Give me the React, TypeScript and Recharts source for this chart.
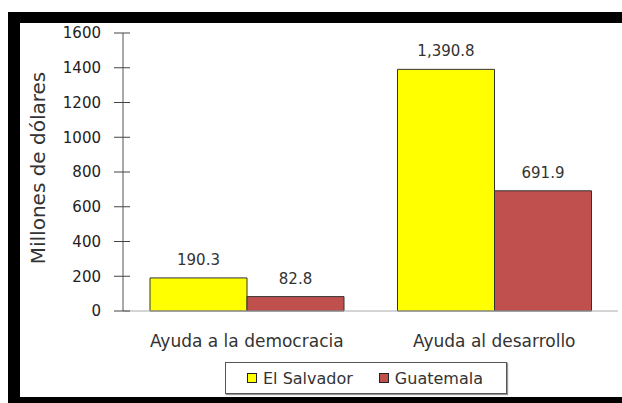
import {
  BarChart,
  Bar,
  XAxis,
  YAxis,
  Legend,
  LabelList,
} from "recharts";

const categories = ["Ayuda a la democracia", "Ayuda al desarrollo"];
const elSalvador = [190.3, 1390.8];
const guatemala = [82.8, 691.9];
const yTicks = [0, 200, 400, 600, 800, 1000, 1200, 1400, 1600];

const data = categories.map((c, i) => ({
  category: c,
  elSalvador: elSalvador[i],
  guatemala: guatemala[i],
}));

const FONT = "'DejaVu Sans', Verdana, sans-serif";
const COLORS = {
  elSalvador: "#ffff00",
  guatemala: "#c0504d",
};

const fmt = (v: any) =>
  Number(v).toLocaleString("en-US", { minimumFractionDigits: 1, maximumFractionDigits: 1 });

// y tick: label plus a tick mark that crosses the axis line
function YTick({ x, y, payload }: any) {
  return (
    <g>
      <line x1={x + 13} x2={x + 29} y1={y} y2={y} stroke="#444" />
      <text
        x={x}
        y={y}
        dy="0.355em"
        textAnchor="end"
        fontSize={15}
        fill="#222"
        fontFamily={FONT}
      >
        {payload.value}
      </text>
    </g>
  );
}

function LegendBox({ payload }: any) {
  return (
    <div
      style={{
        boxSizing: "border-box",
        width: 282,
        height: 32,
        border: "1px solid #555",
        boxShadow: "1px 1px 1px #999",
        display: "flex",
        alignItems: "center",
        paddingLeft: 21,
        fontFamily: FONT,
        fontSize: 16,
        color: "#333",
        background: "#fff",
      }}
    >
      {(payload || []).map((p: any, i: number) => (
        <div
          key={p.value}
          style={{ display: "flex", alignItems: "center", marginLeft: i === 0 ? 0 : 26 }}
        >
          <span
            style={{
              display: "inline-block",
              boxSizing: "border-box",
              width: 10,
              height: 10,
              background: p.color,
              border: "1px solid #222",
              marginRight: 6,
            }}
          />
          <span>{p.value}</span>
        </div>
      ))}
    </div>
  );
}

export default function App() {
  return (
    <div
      style={{
        position: "absolute",
        left: 0,
        top: 0,
        width: 622,
        height: 403,
        background: "#fff",
        overflow: "hidden",
      }}
    >
      <div style={{ position: "absolute", left: 8, top: 12, width: 614, height: 11, background: "#000" }} />
      <div style={{ position: "absolute", left: 8, top: 12, width: 12, height: 391, background: "#000" }} />
      <div style={{ position: "absolute", left: 8, top: 397, width: 614, height: 6, background: "#000" }} />
      <div style={{ position: "absolute", left: 0, top: 0 }}>
        <BarChart
          width={622}
          height={403}
          data={data}
          margin={{ top: 33, right: 4, left: 20, bottom: 42 }}
          barCategoryGap={27}
          barGap={0}
        >
          <XAxis
            dataKey="category"
            tickLine={false}
            axisLine={{ stroke: "#aaa" }}
            tick={{ fontSize: 17, fill: "#333", fontFamily: FONT }}
            tickMargin={18}
            height={50}
            interval={0}
          />
          <XAxis
            xAxisId="top"
            orientation="top"
            dataKey="category"
            tick={false}
            tickLine={false}
            axisLine={{ stroke: "#888" }}
            height={0}
          />
          <YAxis
            domain={[0, 1600]}
            ticks={yTicks}
            interval={0}
            width={103}
            tickSize={9}
            tickMargin={13}
            tickLine={false}
            axisLine={{ stroke: "#555" }}
            tick={<YTick />}
            label={{
              value: "Millones de dólares",
              angle: -90,
              position: "center",
              dx: -34,
              dy: -4,
              fontSize: 20,
              fill: "#333",
              fontFamily: FONT,
            }}
          />
          <YAxis
            yAxisId="right"
            orientation="right"
            domain={[0, 1600]}
            width={0}
            tick={false}
            tickLine={false}
            axisLine={{ stroke: "#888" }}
          />
          <Legend
            verticalAlign="middle"
            align="center"
            wrapperStyle={{ left: 225, top: 362, width: 282, height: 32 }}
            content={<LegendBox />}
          />
          <Bar
            dataKey="elSalvador"
            name="El Salvador"
            fill={COLORS.elSalvador}
            stroke="#333"
            strokeWidth={1}
            isAnimationActive={false}
          >
            <LabelList
              dataKey="elSalvador"
              position="top"
              offset={13}
              formatter={fmt}
              style={{ fontSize: 15, fill: "#333", fontFamily: FONT }}
            />
          </Bar>
          <Bar
            dataKey="guatemala"
            name="Guatemala"
            fill={COLORS.guatemala}
            stroke="#333"
            strokeWidth={1}
            isAnimationActive={false}
          >
            <LabelList
              dataKey="guatemala"
              position="top"
              offset={13}
              formatter={fmt}
              style={{ fontSize: 15, fill: "#333", fontFamily: FONT }}
            />
          </Bar>
        </BarChart>
      </div>
    </div>
  );
}
